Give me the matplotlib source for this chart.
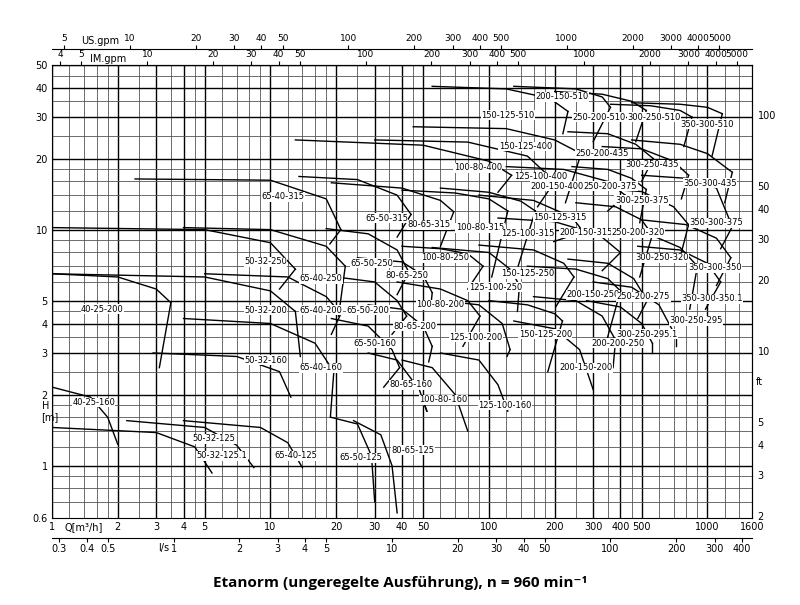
import numpy as np
import matplotlib.pyplot as plt

# pump curves: top curve points (Q m3/h, H m) and lower tip point of the right edge
pumps = ['40-25-160', '40-25-200', '50-32-125.1', '50-32-125', '50-32-160', '50-32-200', '50-32-250',
         '65-40-125', '65-40-160', '65-40-200', '65-40-250', '65-40-315',
         '65-50-125', '65-50-160', '65-50-200', '65-50-250', '65-50-315',
         '80-65-125', '80-65-160', '80-65-200', '80-65-250', '80-65-315',
         '100-80-160', '100-80-200', '100-80-250', '100-80-315', '100-80-400',
         '125-100-160', '125-100-200', '125-100-250', '125-100-315', '125-100-400',
         '150-125-200', '150-125-250', '150-125-315', '150-125-400', '150-125-510',
         '200-150-200', '200-200-250', '200-150-250', '200-150-315', '200-150-400', '200-150-510',
         '250-200-275', '250-200-320', '250-200-375', '250-200-435', '250-200-510',
         '300-250-295.1', '300-250-295', '300-250-320', '300-250-375', '300-250-435', '300-250-510',
         '350-300-350.1', '350-300-350', '350-300-375', '350-300-435', '350-300-510']

top_q = [[1, 1.5, 1.8, 2.0], [1, 2, 3, 3.5], [1, 3, 4.5, 5.4], [2.2, 5, 7, 8.4], [2.9, 7, 11, 12.4],
         [1, 5, 10, 13], [1, 5, 10, 13],
         [4, 9, 12, 14], [4, 10, 16, 19.5], [5, 12, 18, 21], [4, 10, 18, 22], [2.4, 10, 18, 21],
         [19, 25, 29, 30], [19, 28, 36, 39], [20, 30, 38, 42], [18, 28, 38, 43], [13.5, 25, 38, 44],
         [24, 32, 36, 38], [28, 38, 48, 52], [28, 40, 50, 55], [25, 40, 50, 55], [19, 40, 60, 69],
         [40, 55, 70, 80], [38, 60, 80, 91], [40, 60, 80, 94], [40, 70, 100, 122], [13, 50, 100, 127],
         [60, 90, 110, 122], [60, 90, 115, 125], [55, 100, 125, 138], [60, 100, 140, 163], [30, 80, 150, 200],
         [100, 150, 200, 217], [90, 160, 220, 245], [90, 160, 240, 270], [45, 120, 200, 264], [55, 120, 190, 230],
         [130, 200, 260, 300], [160, 250, 330, 380], [150, 250, 350, 400], [110, 200, 320, 400], [120, 220, 350, 420], [130, 250, 330, 360],
         [230, 350, 460, 530], [250, 380, 500, 560], [240, 350, 450, 525], [230, 350, 470, 565], [200, 330, 450, 525],
         [280, 400, 500, 560], [300, 450, 600, 720], [350, 550, 750, 900], [300, 500, 700, 820], [330, 500, 700, 820], [360, 550, 750, 850],
         [480, 750, 1000, 1150], [500, 800, 1100, 1280], [500, 800, 1100, 1300], [450, 750, 1000, 1300], [450, 750, 1000, 1170]]

top_h = [[2.15, 1.95, 1.6, 1.23], [6.5, 6.3, 5.6, 4.9], [1.45, 1.38, 1.2, 0.93], [1.55, 1.45, 1.22, 0.98], [3.0, 2.9, 2.5, 1.95],
         [6.5, 6.3, 5.5, 4.5], [10.2, 10.0, 8.8, 6.8],
         [1.55, 1.45, 1.25, 0.98], [4.2, 4.0, 3.3, 2.5], [6.5, 6.3, 5.2, 4.4], [10.2, 10.0, 8.5, 7.0], [16.4, 16.2, 13.5, 10.0],
         [1.6, 1.5, 1.1, 0.7], [4.2, 3.9, 3.1, 2.6], [6.3, 6.0, 5.0, 4.3], [10.1, 9.6, 8.2, 6.6], [16.8, 16.3, 14.0, 11.6],
         [1.55, 1.35, 1.0, 0.63], [3.0, 2.8, 2.1, 1.7], [4.8, 4.6, 3.9, 3.2], [7.6, 7.3, 6.4, 5.4], [15.8, 15.0, 13.3, 11.9],
         [2.8, 2.6, 2.0, 1.4], [6.0, 5.6, 5.0, 4.3], [8.5, 8.3, 7.9, 7.0], [14.7, 14.3, 13.5, 12.0], [24, 22.8, 19.5, 17],
         [3.0, 2.8, 2.2, 1.7], [5.0, 4.8, 4.0, 3.1], [8.4, 8.0, 6.8, 5.8], [15.0, 14.4, 13.2, 12.0], [24, 23.5, 20.5, 16],
         [5.0, 4.8, 4.4, 4.1], [8.6, 8.2, 7.2, 6.3], [14.0, 13.3, 11.3, 9.8], [27.3, 26.8, 24, 21], [40.5, 39.5, 36, 31.7],
         [4.1, 3.8, 3.1, 2.1], [5.2, 5.0, 4.3, 3.4], [7.0, 6.8, 6.2, 5.5], [11.2, 10.8, 9.5, 8.0], [18.5, 18, 16, 14], [40.5, 39.5, 36.5, 33],
         [7.5, 7.2, 6.2, 5.0], [13, 12.5, 11, 9.5], [18.5, 18, 16.5, 14.8], [26, 25.5, 23, 20], [38.5, 37.5, 35, 32],
         [5.0, 4.7, 4.0, 3.3], [6.0, 5.7, 4.8, 3.5], [10, 9.5, 8.4, 7.0], [15, 14.5, 12.5, 10.5], [22.5, 22, 19.5, 17], [34, 33.5, 32, 30],
         [8.5, 8.2, 7.2, 6.0], [11, 10.5, 9.2, 7.6], [17, 16.5, 15, 10.3], [24, 23, 21, 17.5], [34.5, 34, 33, 31]]

tip_q = [2.0, 3.1, 5.4, 8.4, 12.4, 13.7, 11, 14, 18.8, 19, 20.5, 18.7, 30, 33, 36, 38, 38, 38, 50, 53, 54, 60,
         80, 76, 80, 103, 110, 122, 121, 135, 136, 167, 186, 202, 198, 224, 218,
         300, 370, 340, 330, 350, 300, 480, 490, 490, 500, 470, 560, 720, 830, 760, 760, 780, 980, 1100, 1150, 1200, 1050]
tip_h = [1.23, 2.6, 0.93, 0.98, 1.95, 2.9, 5.6, 0.98, 1.6, 3.6, 4.3, 8.7, 0.7, 2.15, 3.6, 5.3, 9.3, 0.63, 1.87, 2.75, 4.6, 8.5,
         1.4, 3.2, 5.6, 6.3, 14.4, 1.7, 2.9, 4.5, 7.0, 12.5, 2.5, 4.7, 8.9, 13, 25.5,
         2.1, 2.6, 3.2, 6.7, 12, 23.6, 4.2, 6.3, 10.7, 16, 23.6, 3.0, 3.2, 4.6, 8, 13.5, 22.5, 4.6, 5.8, 8.3, 13, 20.5]

label_q = [1.55, 1.7, 6.0, 5.5, 9.5, 9.5, 9.5, 13, 17, 17, 17, 11.4, 26, 30, 28, 29, 34, 45, 44, 46, 42, 53,
           62, 60, 63, 91, 89, 118, 87, 107, 150, 172, 181, 150, 212, 147, 122,
           277, 391, 300, 278, 205, 215, 510, 480, 360, 330, 320, 527, 890, 620, 500, 560, 570, 1050, 1080, 1100, 1030, 1000]
label_h = [1.85, 4.6, 1.1, 1.3, 2.8, 4.55, 7.3, 1.1, 2.6, 4.55, 6.2, 13.8, 1.08, 3.3, 4.55, 7.2, 11.2, 1.16, 2.2, 3.9, 6.4, 10.5,
           1.9, 4.8, 7.6, 10.2, 18.3, 1.8, 3.5, 5.7, 9.6, 16.8, 3.6, 6.5, 11.3, 22.5, 30.5,
           2.6, 3.3, 5.3, 9.7, 15.3, 36.5, 5.2, 9.7, 15.3, 21, 30, 3.6, 4.1, 7.6, 13.3, 18.8, 30, 5.1, 6.9, 10.7, 15.7, 28]

title = 'Etanorm (ungeregelte Ausführung), n = 960 min⁻¹'

fig = plt.figure(figsize=(8, 6.05), dpi=100)
ax = fig.add_axes([0.065, 0.144, 0.875, 0.749])
ax.set_xscale('log')
ax.set_yscale('log')
ax.set_xlim(1, 1600)
ax.set_ylim(0.6, 50)

# grid
mult_minor = [1.2, 1.4, 1.6, 1.8, 2.5, 3.5, 4.5, 6, 7, 8, 9]
mult_major = [1, 2, 3, 4, 5]
for d in [1, 10, 100, 1000]:
    for m in mult_minor:
        if m * d <= 1600:
            ax.axvline(m * d, color='#555555', lw=0.6, zorder=0)
    for m in mult_major:
        if m * d <= 1600:
            ax.axvline(m * d, color='black', lw=1.0, zorder=0)
for d in [0.1, 1, 10]:
    for m in mult_minor:
        if 0.6 <= m * d <= 50:
            ax.axhline(m * d, color='#555555', lw=0.6, zorder=0)
    for m in mult_major:
        if 0.6 <= m * d <= 50:
            ax.axhline(m * d, color='black', lw=1.0, zorder=0)

for i, name in enumerate(pumps):
    ax.plot(top_q[i], top_h[i], color='black', lw=1.0, zorder=2)
    ax.plot([top_q[i][-1], tip_q[i]], [top_h[i][-1], tip_h[i]], color='black', lw=1.0, zorder=2)
    ax.text(label_q[i], label_h[i], name, fontsize=6, ha='center', va='center', zorder=3,
            bbox=dict(facecolor='white', edgecolor='none', pad=0.3))

# main ticks
xt = [1, 2, 3, 4, 5, 10, 20, 30, 40, 50, 100, 200, 300, 400, 500, 1000, 1600]
yt = [0.6, 1, 2, 3, 4, 5, 10, 20, 30, 40, 50]
ax.set_xticks(xt, [str(v) for v in xt], fontsize=7)
ax.set_yticks(yt, [str(v) for v in yt], fontsize=7)
ax.minorticks_off()
ax.tick_params(length=0, pad=3)

ls_t = [0.3, 0.4, 0.5, 1, 2, 3, 4, 5, 10, 20, 30, 40, 50, 100, 200, 300, 400]
sec = ax.secondary_xaxis(-0.045, functions=(lambda q: q / 3.6, lambda v: v * 3.6))
sec.set_xticks(ls_t, [str(v) for v in ls_t], fontsize=7)
sec.minorticks_off()
sec.tick_params(length=3, pad=1)
sec.spines['bottom'].set_linewidth(0.8)

im_t = [4, 5, 10, 20, 30, 40, 50, 100, 200, 300, 400, 500, 1000, 2000, 3000, 4000, 5000]
sim = ax.secondary_xaxis(1.0, functions=(lambda q: q * 3.666, lambda v: v / 3.666))
sim.set_xticks(im_t, [str(v) for v in im_t], fontsize=6.5)
sim.minorticks_off()
sim.tick_params(length=3, pad=1)

us_t = [5, 10, 20, 30, 40, 50, 100, 200, 300, 400, 500, 1000, 2000, 3000, 4000, 5000]
sus = ax.secondary_xaxis(1.035, functions=(lambda q: q * 4.403, lambda v: v / 4.403))
sus.set_xticks(us_t, [str(v) for v in us_t], fontsize=6.5)
sus.minorticks_off()
sus.tick_params(length=3, pad=1)

ft_t = [2, 3, 4, 5, 10, 20, 30, 40, 50, 100]
sft = ax.secondary_yaxis('right', functions=(lambda h: h * 3.281, lambda v: v / 3.281))
sft.set_yticks(ft_t, [str(v) for v in ft_t], fontsize=7)
sft.minorticks_off()
sft.tick_params(length=0, pad=4)

fig.text(0.105, 0.128, 'Q[m³/h]', fontsize=7, ha='center', va='center')
fig.text(0.205, 0.094, 'l/s', fontsize=7, ha='center', va='center')
fig.text(0.102, 0.932, 'US.gpm', fontsize=7, ha='left', va='center')
fig.text(0.112, 0.902, 'IM.gpm', fontsize=7, ha='left', va='center')
fig.text(0.052, 0.32, 'H\n[m]', fontsize=7, ha='left', va='center')
fig.text(0.945, 0.368, 'ft', fontsize=7, ha='left', va='center')
fig.text(0.5, 0.036, title, fontsize=11, fontweight='bold', ha='center', va='center',
         family=['Open Sans', 'DejaVu Sans'])

fig.savefig('out.png', dpi=100)
